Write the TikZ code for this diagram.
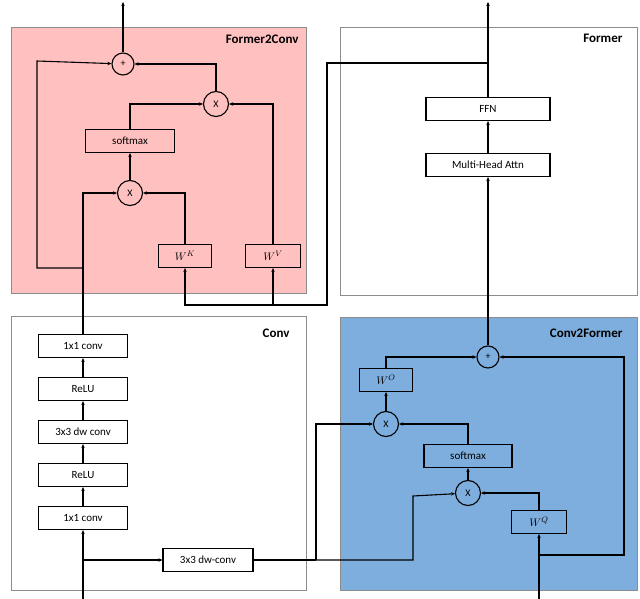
\documentclass[tikz,border=0pt]{standalone}
\usepackage{fontspec}
\setmainfont{Carlito}
\usetikzlibrary{arrows.meta}
\definecolor{pinkbg}{RGB}{255,192,192}
\definecolor{bluebg}{RGB}{126,174,221}
\definecolor{panelgray}{RGB}{140,140,140}
\begin{document}
\begin{tikzpicture}[x=1pt,y=-1pt,
  panel/.style={draw=panelgray,line width=0.6pt},
  title/.style={font=\bfseries\fontsize{13}{15}\selectfont,anchor=north east},
  blk/.style={draw,line width=1.1pt,minimum height=23pt,inner sep=1pt,font=\fontsize{11}{13}\selectfont},
  op/.style={draw,circle,line width=1.1pt,minimum size=25pt,inner sep=0pt,font=\fontsize{10}{12}\selectfont},
  pl/.style={op,minimum size=22pt},
  ln/.style={line width=1.1pt},
  ar/.style={ln,-{Stealth[length=4pt,width=3.5pt]}}]
\useasboundingbox (0,0) rectangle (640,599);
% panels
\draw[panel,fill=pinkbg] (11,27) rectangle (306,293);
\draw[panel,fill=white] (340,27) rectangle (637,295);
\draw[panel,fill=white] (11,316) rectangle (306,590);
\draw[panel,fill=bluebg] (340,317) rectangle (637,590);
\node[title] at (302,31) {Former2Conv};
\node[title] at (626,31) {Former};
\node[title] at (293,325) {Conv};
\node[title] at (626,325) {Conv2Former};
% Former2Conv
\node[pl] (fplus) at (123,64) {+};
\node[op] (fx1) at (216,104) {X};
\node[blk,minimum width=89pt] (fsm) at (130,141) {softmax};
\node[op] (fx2) at (130,193) {X};
\node[blk,minimum width=53pt] (wk) at (185,256) {$W^K$};
\node[blk,minimum width=55pt] (wv) at (273,256) {$W^V$};
% Former
\node[blk,minimum width=124pt] (ffn) at (488,109) {FFN};
\node[blk,minimum width=124pt] (mha) at (488,165) {Multi-Head Attn};
% Conv
\node[blk,minimum width=89pt] (c1) at (83,346) {1x1 conv};
\node[blk,minimum width=89pt] (c2) at (83,389) {ReLU};
\node[blk,minimum width=89pt] (c3) at (83,432) {3x3 dw conv};
\node[blk,minimum width=89pt] (c4) at (83,475) {ReLU};
\node[blk,minimum width=89pt] (c5) at (83,518) {1x1 conv};
\node[blk,minimum width=90pt] (dw) at (208,560) {3x3 dw-conv};
% Conv2Former
\node[pl] (bplus) at (488,357) {+};
\node[blk,minimum width=53pt] (wo) at (386,380) {$W^O$};
\node[op] (bx1) at (386,424) {X};
\node[blk,minimum width=88pt] (bsm) at (468,456) {softmax};
\node[op] (bx2) at (468,493) {X};
\node[blk,minimum width=55pt] (wq) at (539,522) {$W^Q$};
% coordinates
\coordinate (inL) at (83,599);
\coordinate (inR) at (539,599);
\coordinate (topL) at (123,2);
\coordinate (topR) at (488,2);
\coordinate (br) at (83,268);
\coordinate (sp) at (83,560);
\coordinate (jf) at (488,63);
\coordinate (jk) at (273,305);
\coordinate (jd) at (316,560);
\coordinate (jq) at (539,555);
% Conv chain
\draw[ar] (inL) -- (c5);
\draw[ar] (c5) -- (c4);
\draw[ar] (c4) -- (c3);
\draw[ar] (c3) -- (c2);
\draw[ar] (c2) -- (c1);
\draw[ar] (sp) -- (dw);
\draw[ln] (c1.north) -- (br);
\draw[ar] (br) |- (fx2);
\draw[ar] (br) -| (37,61) -- (fplus);
% Former2Conv internals
\draw[ar] (fx2) -- (fsm);
\draw[ar] (fsm.north) |- (fx1);
\draw[ar] (wk.north) |- (fx2);
\draw[ar] (wv.north) |- (fx1);
\draw[ar] (fx1.north) |- (fplus);
\draw[ar] (fplus) -- (topL);
% Former
\draw[ar] (bplus) -- (mha);
\draw[ar] (mha) -- (ffn);
\draw[ar] (ffn) -- (topR);
\draw[ln] (jf) -| (327,305) -- (jk);
\draw[ar] (jk) -- (wv);
\draw[ar] (jk) -| (wk);
% Conv2Former
\draw[ln] (dw) -- (jd);
\draw[ar] (jd) |- (bx1);
\draw[ar] (jd) -| (413,496) -- (bx2);
\draw[ar] (inR) -- (wq);
\draw[ar] (jq) -| (624,357) -- (bplus);
\draw[ar] (wq.north) |- (bx2);
\draw[ar] (bx2) -- (bsm);
\draw[ar] (bsm.north) |- (bx1);
\draw[ar] (bx1) -- (wo);
\draw[ar] (wo.north) |- (bplus);
\end{tikzpicture}
\end{document}
